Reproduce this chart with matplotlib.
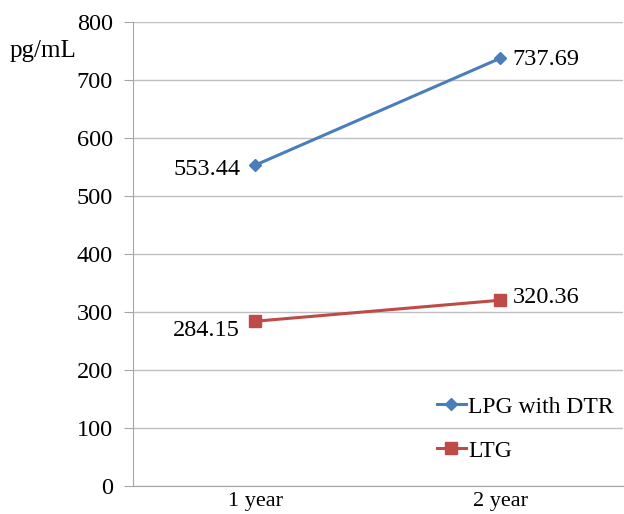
import matplotlib
matplotlib.use("Agg")
from matplotlib import pyplot as plt

# serum levels by follow-up time
periods = ["1 year", "2 year"]
lpg_dtr = [553.44, 737.69]
ltg = [284.15, 320.36]
yticks = [0, 100, 200, 300, 400, 500, 600, 700, 800]

plt.rcParams['font.family'] = ['Liberation Serif', 'DejaVu Serif']
fs = 17.5

fig = plt.figure(figsize=(6.24, 5.14), dpi=100)
ax = fig.add_axes([0.213, 0.0545, 0.785, 0.9025])

x = list(range(len(periods)))
ax.plot(x, lpg_dtr, color='#4A7EBB', lw=2.2, marker='D', ms=6, label='LPG with DTR')
ax.plot(x, ltg, color='#BE4B48', lw=2.2, marker='s', ms=8.5, label='LTG')

# value labels
ax.annotate(f"{lpg_dtr[0]:.2f}", (x[0], lpg_dtr[0]), xytext=(-11, -3), textcoords='offset points',
            ha='right', va='center', fontsize=fs)
ax.annotate(f"{lpg_dtr[1]:.2f}", (x[1], lpg_dtr[1]), xytext=(9, -1), textcoords='offset points',
            ha='left', va='center', fontsize=fs)
ax.annotate(f"{ltg[0]:.2f}", (x[0], ltg[0]), xytext=(-11, -7), textcoords='offset points',
            ha='right', va='center', fontsize=fs)
ax.annotate(f"{ltg[1]:.2f}", (x[1], ltg[1]), xytext=(9, 2), textcoords='offset points',
            ha='left', va='center', fontsize=fs)

ax.set_xlim(-0.5, 1.5)
ax.set_ylim(0, 800)
ax.set_yticks(yticks)
ax.set_xticks(x)
ax.set_xticklabels(periods)
ax.grid(axis='y', color='#BFBFBF', lw=1)
ax.set_axisbelow(True)
for s in ['top', 'right']:
    ax.spines[s].set_visible(False)
ax.spines['left'].set_color('#A6A6A6')
ax.spines['bottom'].set_color('#A6A6A6')
ax.tick_params(axis='y', length=6.5, color='#A6A6A6', labelsize=fs, pad=8)
ax.tick_params(axis='x', length=0, labelsize=16, pad=4)

fig.text(0.016, 0.9, "pg/mL", fontsize=18, ha='left', va='center')

ax.legend(loc='center left', bbox_to_anchor=(0.62, 0.123), frameon=False, fontsize=17,
          handlelength=1.25, handletextpad=0.1, labelspacing=0.95, borderpad=0,
          borderaxespad=0)

fig.savefig("out.png", dpi=100)
